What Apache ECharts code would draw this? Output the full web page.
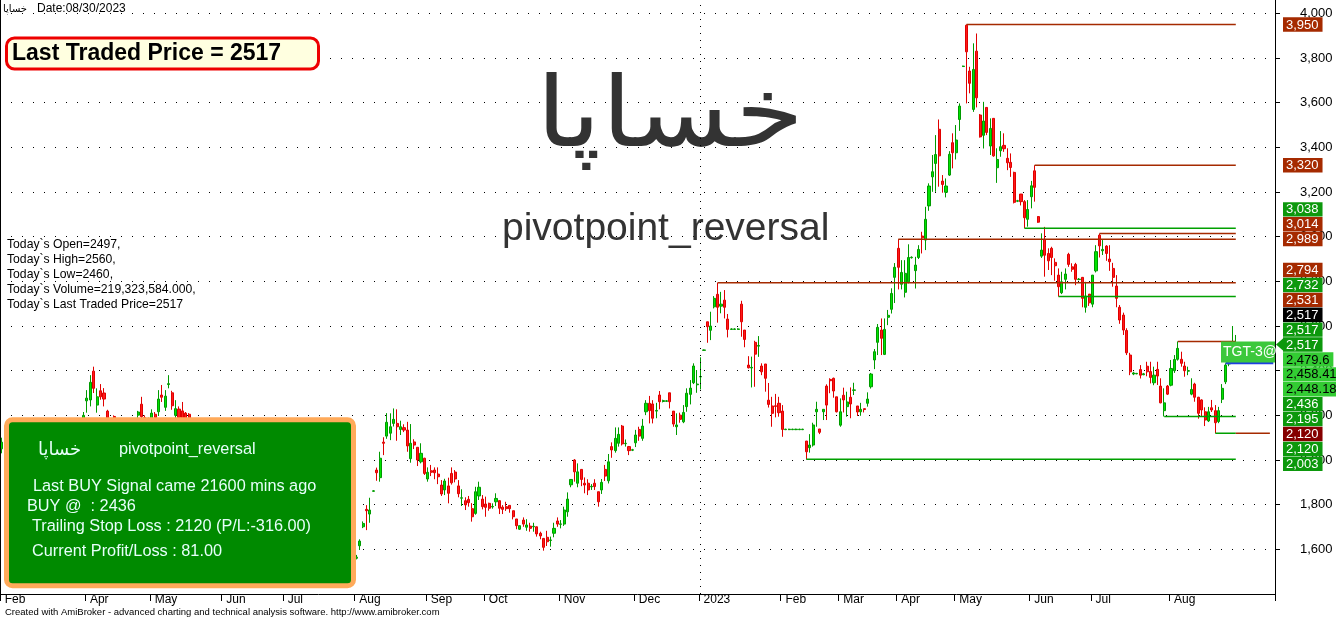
<!DOCTYPE html>
<html><head><meta charset="utf-8">
<script src="https://cdn.jsdelivr.net/npm/echarts@6/dist/echarts.min.js"></script>
<style>html,body{margin:0;padding:0;background:#fff}#c{width:1336px;height:619px}</style>
</head><body><div id="c"></div>
<script>
// ---- DATA ----
// each bar: [open, close, low, high]
const bars = [
[2050,2080,2030,2100],[2080,2060,2040,2110],[2060,2100,2050,2120],[2100,2090,2070,2130],[2090,2040,2020,2100],
[2040,2010,1990,2060],[2010,2050,2000,2070],[2050,2030,2010,2080],[2030,1990,1970,2040],[1990,2020,1980,2040],
[2020,2060,2010,2080],[2060,2050,2030,2090],[2050,2090,2040,2110],[2090,2070,2050,2120],[2070,2110,2060,2130],
[2110,2100,2080,2140],[2100,2130,2090,2150],[2130,2110,2090,2160],[2110,2140,2100,2160],[2140,2120,2100,2170],
[2120,2150,2110,2170],[2150,2130,2110,2175],[2130,2160,2120,2180],[2160,2150,2130,2180],
[2150,2200,2120,2215],[2265,2277,2212,2313],[2269,2348,2240,2380],[2398,2321,2300,2418],[2246,2283,2212,2321],
[2310,2283,2270,2340],[2300,2273,2240,2322],[2219,2160,2150,2225],[2160,2120,2100,2180],[2195,2160,2140,2200],
[2160,2140,2120,2180],[2140,2150,2110,2170],[2150,2130,2120,2175],[2130,2145,2100,2160],[2145,2170,2130,2180],
[2170,2160,2140,2185],[2201,2215,2180,2220],[2250,2194,2180,2283],[2190,2170,2150,2200],[2170,2180,2140,2190],
[2180,2210,2170,2227],[2205,2190,2160,2215],[2216,2273,2197,2313],[2291,2281,2260,2336],[2236,2286,2220,2313],
[2338,2342,2321,2380],[2301,2243,2225,2310],[2200,2230,2180,2268],[2228,2190,2170,2240],[2220,2180,2160,2260],
[2210,2170,2150,2215],[2205,2160,2140,2210],
[2160,2140,2120,2175],[2140,2120,2100,2160],[2120,2150,2110,2170],[2150,2110,2090,2160],[2110,2080,2060,2120],
[2080,2090,2060,2110],[2090,2060,2040,2100],[2060,2040,2020,2070],[2040,2050,2020,2070],[2050,2020,2000,2060],
[2020,1990,1970,2030],[1990,2000,1970,2020],[2000,1970,1950,2010],[1970,1950,1930,1980],[1950,1960,1930,1980],
[1960,1930,1910,1970],[1930,1910,1890,1940],[1910,1920,1890,1940],[1920,1890,1870,1930],[1890,1870,1850,1900],
[1870,1880,1850,1900],[1880,1850,1830,1890],[1850,1830,1810,1860],[1830,1840,1810,1860],[1840,1860,1830,1880],
[1860,1840,1820,1870],[1840,1810,1790,1850],[1810,1790,1770,1820],[1790,1800,1770,1820],[1800,1780,1760,1810],
[1780,1760,1740,1790],[1760,1770,1740,1790],[1770,1740,1720,1780],[1740,1720,1700,1750],[1720,1730,1700,1750],
[1730,1700,1680,1740],[1700,1690,1670,1720],[1690,1710,1680,1730],[1710,1680,1660,1720],[1680,1660,1640,1690],
[1660,1670,1640,1690],[1670,1650,1630,1680],[1650,1630,1610,1660],[1630,1640,1610,1660],[1640,1620,1600,1650],
[1620,1600,1580,1630],[1600,1610,1580,1630],[1610,1590,1570,1620],
[1560,1565,1555,1575],[1616,1637,1597,1645],[1701,1716,1695,1725],[1779,1773,1686,1798],[1758,1776,1719,1831],
[1860,1862,1858,1865],[1955,1943,1907,1966],[1921,2008,1903,2037],[2080,2075,2022,2102],[2107,2169,2095,2210],
[2120,2149,2089,2209],[2164,2182,2150,2231],[2164,2149,2086,2227],[2137,2149,2112,2176],[2145,2134,2125,2160],
[2134,2063,2037,2171],[2006,2075,1988,2161],[2081,2067,2049,2093],[2057,2000,1973,2057],[1992,2030,1985,2075],
[2008,1940,1933,2010],[1915,1945,1903,1967],[1952,1945,1928,1978],[1955,1943,1914,1967],[1937,1925,1892,1967],
[1888,1848,1839,1910],[1866,1906,1843,1916],[1884,1851,1806,1921],[1940,1898,1890,1967],[1946,1915,1900,1955],
[1884,1849,1833,1910],[1829,1831,1794,1869],[1818,1799,1776,1833],[1824,1809,1791,1839],[1782,1746,1724,1807],
[1761,1858,1755,1880],[1839,1878,1821,1903],[1825,1791,1779,1843],[1803,1788,1746,1836],[1806,1784,1773,1809],
[1790,1792,1782,1806],[1813,1828,1794,1851],[1818,1784,1758,1820],[1789,1779,1758,1798],[1791,1782,1772,1813],
[1797,1782,1764,1797],[1773,1746,1734,1773],[1736,1706,1690,1736],[1690,1706,1687,1706],[1731,1713,1701,1743],
[1699,1709,1683,1735],[1704,1694,1679,1719],[1701,1703,1679,1719],[1701,1669,1657,1702],[1672,1660,1645,1679],
[1649,1609,1594,1650],[1654,1634,1615,1683],[1640,1642,1612,1657],[1672,1694,1654,1719],[1727,1713,1701,1743],
[1712,1714,1694,1731],[1713,1776,1705,1791],[1768,1825,1746,1855],[1889,1913,1878,1913],[2000,1947,1903,2004],
[1896,1947,1878,1985],[1958,1913,1883,1958],[1896,1888,1851,1922],[1896,1866,1843,1914],[1880,1882,1866,1892],
[1896,1881,1866,1914],[1858,1813,1791,1858],[1866,1900,1848,1915],[1958,1928,1906,1978],[1907,1992,1895,2027],
[2060,2045,2010,2079],[2042,2097,2033,2146],[2075,2115,2060,2146],[2152,2072,2065,2157],[2073,2075,2060,2092],
[2060,2042,2022,2063],[2044,2046,2040,2050],[2077,2112,2058,2135],[2137,2107,2086,2149],[2097,2152,2086,2184],
[2216,2254,2201,2268],[2254,2221,2164,2287],[2251,2187,2164,2268],[2219,2222,2187,2256],[2291,2261,2227,2309],
[2262,2266,2258,2270],[2263,2265,2260,2268],[2301,2261,2231,2301],[2219,2161,2149,2219],[2149,2157,2112,2209],
[2201,2182,2167,2212],[2171,2213,2165,2246],[2239,2299,2216,2321],[2294,2322,2249,2358],[2346,2421,2340,2433],
[2337,2340,2301,2403],[2372,2374,2316,2460],[2491,2493,2489,2495],
[2619,2597,2525,2619],[2581,2600,2537,2664],[2686,2724,2679,2734],[2742,2684,2615,2794],[2689,2698,2657,2753],
[2716,2684,2634,2761],[2631,2585,2549,2654],[2585,2587,2583,2590],[2585,2587,2583,2590],[2585,2587,2583,2590],
[2698,2619,2552,2713],[2582,2540,2505,2582],[2425,2413,2410,2465],[2412,2415,2325,2463],[2527,2474,2328,2534],
[2510,2513,2462,2555],[2421,2395,2380,2433],[2430,2366,2306,2430],[2268,2249,2235,2345],[2242,2209,2149,2283],
[2243,2240,2191,2296],[2254,2212,2194,2283],[2219,2137,2104,2246],
[2136,2138,2134,2140],[2136,2138,2134,2140],[2136,2138,2134,2140],[2136,2138,2134,2140],[2136,2138,2134,2140],[2136,2138,2134,2140],
[2085,2037,2003,2085],[2055,2067,2033,2116],[2067,2157,2060,2167],[2216,2227,2149,2261],[2139,2124,2116,2139],
[2216,2227,2179,2227],[2331,2246,2179,2339],[2361,2355,2299,2366],[2366,2309,2279,2369],[2283,2216,2213,2283],
[2156,2216,2149,2276],[2290,2269,2213,2324],[2239,2260,2194,2306],[2281,2251,2187,2325],[2312,2314,2291,2346],
[2242,2215,2197,2242],[2216,2227,2198,2256],[2230,2226,2213,2230],[2254,2273,2239,2303],[2328,2385,2320,2390],
[2448,2485,2407,2497],[2527,2594,2470,2609],[2582,2545,2470,2634],[2473,2585,2470,2634],[2639,2648,2604,2672],
[2675,2746,2656,2769],[2818,2863,2703,2882],[2948,2863,2764,2989],[2787,2840,2764,2895],[2751,2836,2728,2895],
[2798,2907,2791,2966],[2906,2908,2902,2912],[2848,2873,2768,2910],[2907,2943,2900,2962],[3003,2995,2925,3022],
[2985,3078,2940,3134],[3138,3227,3116,3239],[3268,3291,3201,3366],[3328,3368,3201,3455],[3481,3362,3224,3525],
[3249,3234,3197,3276],[3199,3227,3176,3261],[3276,3369,3272,3383],[3421,3376,3306,3463],[3376,3433,3346,3500],
[3525,3585,3474,3597],[3762,3764,3760,3766],[3947,3828,3597,3950],[3742,3687,3642,3761],[3570,3749,3559,3866],
[3831,3622,3579,3910],[3545,3447,3444,3549],[3454,3518,3395,3604],[3579,3467,3455,3579],[3406,3485,3366,3530],
[3530,3362,3358,3530],[3309,3346,3241,3396],[3385,3403,3358,3473],[3409,3394,3380,3463],[3351,3331,3298,3396],
[3333,3310,3268,3373],[3288,3154,3149,3291],[3159,3161,3155,3165],[3191,3157,3140,3191],[3157,3085,3038,3164],
[3078,3122,3045,3164],[3179,3228,3127,3250],[3295,3221,3157,3320],[3090,3065,3062,3092],[2913,2940,2905,3015],
[2988,2917,2821,3044],[2925,2892,2851,2948],[2948,2907,2828,2955],[2885,2870,2803,2903],[2828,2776,2732,2858],
[2749,2798,2743,2843],[2809,2833,2764,2858],[2921,2876,2865,2928],[2865,2854,2843,2881],[2876,2809,2783,2883],
[2808,2810,2805,2815],[2818,2724,2684,2818],[2684,2734,2660,2798],[2743,2704,2690,2743],[2698,2828,2684,2828],
[2847,2933,2840,2962],[3007,2959,2907,3014],[2937,2943,2918,2985],[2958,2925,2892,2962],[2900,2888,2847,2962],
[2858,2818,2776,2883],[2779,2724,2684,2828],[2684,2627,2610,2694],[2649,2582,2560,2660],
[2580,2480,2470,2590],[2470,2395,2380,2480],[2385,2390,2380,2395],[2386,2388,2384,2390],[2405,2380,2365,2425],
[2382,2386,2380,2390],[2420,2395,2375,2440],
[2396,2370,2343,2440],[2346,2380,2335,2418],[2406,2376,2336,2440],[2331,2256,2254,2366],[2221,2256,2195,2321],
[2331,2295,2291,2336],[2335,2410,2330,2448],[2400,2450,2390,2470],[2451,2500,2445,2531],[2451,2433,2418,2485],
[2421,2400,2373,2440],[2398,2400,2380,2418],[2295,2316,2290,2366],[2340,2281,2261,2346],[2281,2209,2185,2283],
[2269,2224,2195,2272],[2216,2179,2152,2236],[2175,2216,2170,2238],[2234,2224,2215,2269],[2221,2167,2120,2246],
[2172,2221,2165,2238],[2272,2321,2255,2340],[2350,2425,2340,2433],[2430,2480,2420,2500],[2480,2500,2460,2600],
[2497,2517,2460,2560]
];
const totalSlots = 374;              // bars plus blank slots on the right
const monthTicks  = [0,25,44,65,83,104,125,142,164,186,205,229,246,263,280,302,320,343];
const monthLabels = ['Feb','Apr','May','Jun','Jul','Aug','Sep','Oct','Nov','Dec','2023','Feb','Mar','Apr','May','Jun','Jul','Aug'];
const yearStart = 205;
// pivot levels: value, first bar, last bar, kind
const levels = [
 {v:3950,s:283,e:362,k:'res'},{v:3320,s:303,e:362,k:'res'},{v:3038,s:300,e:362,k:'sup'},
 {v:3014,s:322,e:362,k:'res'},{v:2989,s:263,e:362,k:'res'},{v:2794,s:210,e:362,k:'res'},
 {v:2732,s:310,e:362,k:'sup'},{v:2531,s:345,e:362,k:'res'},{v:2195,s:341,e:362,k:'sup'},
 {v:2003,s:236,e:362,k:'sup'},{v:2120,s:356,e:362,k:'sup'},{v:2120,s:362,e:372,k:'res'},
 {v:2436,s:359,e:373,k:'buy'}
];
// right-hand value labels (top to bottom)
const priceLabels = [
 {v:3950,k:'res'},{v:3320,k:'res'},{v:3038,k:'sup'},{v:3014,k:'res'},{v:2989,k:'res'},
 {v:2794,k:'res'},{v:2732,k:'sup'},{v:2531,k:'res'},{v:2517,k:'last'},{v:2517,k:'sup'},
 {v:2517,k:'close'},{v:2479.6,k:'tgt'},{v:2458.41,k:'tgt'},{v:2448.18,k:'tgt'},{v:2436,k:'sup'},
 {v:2195,k:'sup'},{v:2120,k:'stop'},{v:2120,k:'sup'},{v:2003,k:'sup'}
];
const symbol = 'خساپا';
const system = 'pivotpoint_reversal';
const infoLines = ['Today`s Open=2497,','Today`s High=2560,','Today`s Low=2460,','Today`s Volume=219,323,584.000,','Today`s Last Traded Price=2517'];
const boxLines = ['Last BUY Signal came 21600 mins ago','BUY @  : 2436','Trailing Stop Loss : 2120 (P/L:-316.00)','Current Profit/Loss : 81.00'];

// ---- STYLE ----
const LAT = '"Liberation Sans", Arial, sans-serif';
const lineColors = {res:'#a52a00', sup:'#00a000', buy:'#1f3fe0'};
const labelStyles = {
 res:{bg:'#a52a00',fg:'#fff'}, sup:{bg:'#0c980c',fg:'#fff'}, close:{bg:'#0c980c',fg:'#fff'},
 last:{bg:'#000',fg:'#fff'}, tgt:{bg:'#33cc33',fg:'#000'}, stop:{bg:'#850000',fg:'#fff'}
};

const cats = Array.from({length: totalSlots}, (_, i) => String(i));
const tickMap = new Map(monthTicks.map((t, k) => [t, monthLabels[k]]));
const chart = echarts.init(document.getElementById('c'), null, {renderer:'canvas'});

const lineSeries = levels.map(l => ({
  type:'line', data:[[l.s, l.v],[l.e, l.v]], symbol:'none', silent:true, z:3,
  lineStyle:{color:lineColors[l.k], width: l.k === 'buy' ? 3 : 1.5}
}));

chart.setOption({
  animation:false,
  grid:{left:0,right:61,top:0,bottom:25,containLabel:false},
  xAxis:{type:'category', data:cats, boundaryGap:true,
    axisLine:{lineStyle:{color:'#000',width:1}},
    axisTick:{show:true,length:7,interval:(i)=>tickMap.has(i),lineStyle:{color:'#000'}},
    axisLabel:{interval:(i)=>tickMap.has(i), formatter:(v,i)=>tickMap.get(i)||'', align:'left',
      margin:0, padding:[0,0,0,3], color:'#000', fontSize:12, fontFamily:LAT},
    splitLine:{show:false}},
  yAxis:{type:'value', position:'right', min:1400, max:4060, interval:200, scale:false,
    axisLine:{show:true,lineStyle:{color:'#000'}},
    axisTick:{show:true,length:5,lineStyle:{color:'#000'}},
    axisLabel:{margin:25,color:'#000',fontSize:13,fontFamily:LAT,showMinLabel:false,showMaxLabel:false,
      formatter:v=>v.toLocaleString('en-US')},
    splitLine:{show:true,showMinLine:false,showMaxLine:false,lineStyle:{color:'#000',type:[1,10],width:1}}},
  series:[{
    type:'candlestick', data:bars, barWidth:2.6,
    itemStyle:{color:'#00e400',color0:'#ff1a1a',borderColor:'#009a00',borderColor0:'#e00000',borderWidth:1},
    markLine:{silent:true,symbol:['none','none'],label:{show:false},
      lineStyle:{color:'#000',type:[1,6],width:1},data:[{xAxis:String(yearStart)}]}
  }, ...lineSeries]
});

// ---- annotations ----
const g = [];
function txt(x,y,text,font,fill,align,z,extra){
  align = align || 'left';
  const el = {type:'text', z: z===undefined?100:z, silent:true,
    style:{x,y,text,font,fill,align,verticalAlign:'middle',textAlign:align,textVerticalAlign:'middle'}};
  if (extra) Object.assign(el, extra);
  g.push(el);
}
function rect(x,y,w,h,fill,stroke,lw,r,z){
  g.push({type:'rect', z: z===undefined?99:z, silent:true, shape:{x,y,width:w,height:h,r:r||0},
    style:{fill, stroke: stroke||null, lineWidth: lw||0}});
}
const mctx = document.createElement('canvas').getContext('2d');
function tw(t,f){ mctx.font=f; return mctx.measureText(t).width; }

// left border
g.push({type:'line', z:50, silent:true, shape:{x1:0.5,y1:0,x2:0.5,y2:594}, style:{stroke:'#000',lineWidth:1}});
// header
txt(3, 9, symbol, '10px "DejaVu Sans", sans-serif', '#000');
txt(37, 9, 'Date:08/30/2023', '12px '+LAT, '#000');
rect(6.5, 38, 312, 31, '#ffffe0', '#ee0000', 3, 8);
txt(12, 54, 'Last Traded Price = 2517', 'bold 23px '+LAT, '#000');
infoLines.forEach((t,k)=>txt(7, 245 + k*15, t, '12.2px '+LAT, '#000'));
// watermark
txt(0, 0, symbol, '98px "DejaVu Sans", sans-serif', '#333', 'center', 0, {x:670, y:121, scaleX:1.14, scaleY:1});
txt(502, 229, system, '39px '+LAT, '#333', 'left', 0);
// signal box
rect(6.5, 419.8, 347, 166, '#008a00', '#ffaa5a', 5, 6);
const bf = '16.3px '+LAT, bc = '#e6fffa';
txt(38, 450, symbol, '18px "DejaVu Sans", sans-serif', bc);
txt(119, 450, system, bf, bc);
txt(33, 487, boxLines[0], bf, bc);
txt(27, 507, boxLines[1], bf, bc);
txt(32, 527, boxLines[2], bf, bc);
txt(32, 552, boxLines[3], bf, bc);
// footer
txt(5, 612, 'Created with AmiBroker - advanced charting and technical analysis software. http://www.amibroker.com', '9.5px '+LAT, '#000');

// right-side value labels, stacked around the close label
const anchor = priceLabels.findIndex(p => p.k === 'close');
const ys = priceLabels.map(p => chart.convertToPixel({yAxisIndex:0}, p.v));
const H = 14.9;
for (let k = anchor-1; k >= 0; k--) ys[k] = Math.min(ys[k], ys[k+1]-H);
for (let k = anchor+1; k < ys.length; k++) ys[k] = Math.max(ys[k], ys[k-1]+H);
const lf = '13px '+LAT;
priceLabels.forEach((p,k) => {
  const st = labelStyles[p.k];
  const t = p.v.toLocaleString('en-US',{maximumFractionDigits:2});
  const w = tw(t, lf) + 7;
  rect(1283, ys[k]-7.2, w, 14.4, st.bg, null, 0, 0, 101);
  txt(1286, ys[k]+0.5, t, lf, st.fg, 'left', 102);
  if (p.k === 'close') {
    g.push({type:'polygon', z:101, silent:true, shape:{points:[[1276,ys[k]],[1283,ys[k]-6],[1283,ys[k]+6]]}, style:{fill:st.bg}});
  }
});
// target tag
const ay = ys[anchor];
rect(1221, ay-3, 54, 21, '#3cc83c', null, 0, 0, 98);
txt(1223, ay+7.5, 'TGT-3@2', '14px '+LAT, '#fff', 'left', 98);

chart.setOption({graphic: g});
</script></body></html>
